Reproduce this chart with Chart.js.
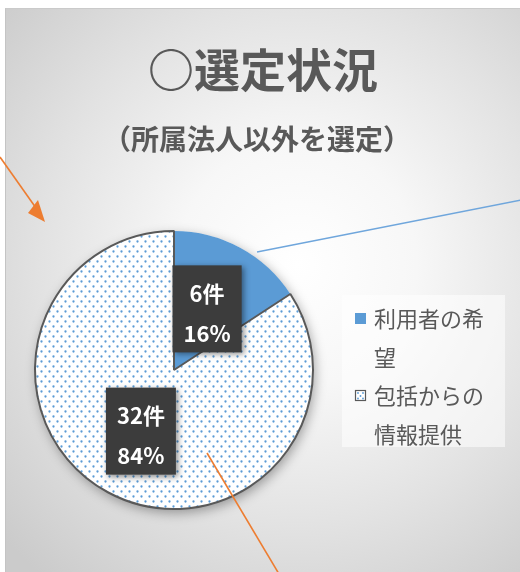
<!DOCTYPE html>
<html><head><meta charset="utf-8">
<script src="https://cdn.jsdelivr.net/npm/chart.js@4.4.1/dist/chart.umd.min.js"></script>
<style>
html,body{margin:0;padding:0;background:#fff;width:520px;height:572px;overflow:hidden}
#bg{position:absolute;left:5px;top:8px;width:530px;height:580px;border-left:1.5px solid #c4c4c4;border-top:1.5px solid #cacaca;
background:radial-gradient(ellipse 75% 70% at 55% 44%, #ffffff 0%, #f7f7f7 30%, #e2e2e2 65%, #cbcbcb 100%)}
#c{position:absolute;left:0;top:0}
</style></head><body><div id="bg"></div><canvas id="c" width="520" height="572"></canvas>
<script>
const TITLE = '○選定状況';
const SUBTITLE = '（所属法人以外を選定）';
const categories = ['利用者の希望', '包括からの情報提供'];
const counts = [6, 32];
const unit = '件';

const FONT = '"Noto Sans CJK JP","Noto Sans",sans-serif';
const TEXT = '#595959';
const BLUE = '#5B9BD5';

function makePattern(){
  const c = document.createElement('canvas');
  c.width = 8; c.height = 10;
  const x = c.getContext('2d');
  x.fillStyle = '#ffffff'; x.fillRect(0,0,8,10);
  x.fillStyle = '#5b9bd5';
  x.beginPath(); x.arc(1.5,1.5,1.15,0,Math.PI*2); x.fill();
  x.beginPath(); x.arc(5.5,6.5,1.15,0,Math.PI*2); x.fill();
  return x.createPattern(c,'repeat');
}
const pattern = makePattern();
const total = counts.reduce((a,b)=>a+b,0);

const pieShadow = {
  id:'pieShadow',
  beforeDatasetsDraw(chart){
    const a = chart.getDatasetMeta(0).data[0];
    if(!a) return;
    const ctx = chart.ctx;
    ctx.save();
    ctx.shadowColor='rgba(0,0,0,0.35)'; ctx.shadowBlur=12; ctx.shadowOffsetX=2; ctx.shadowOffsetY=4;
    ctx.fillStyle='#ffffff';
    ctx.beginPath(); ctx.arc(a.x,a.y,a.outerRadius,0,Math.PI*2); ctx.fill();
    ctx.restore();
  }
};

const dataLabels = {
  id:'dataLabels',
  afterDatasetsDraw(chart){
    const ctx = chart.ctx;
    const meta = chart.getDatasetMeta(0);
    meta.data.forEach((arc,i)=>{
      const p = arc.tooltipPosition();
      const v = counts[i];
      const lines = [v + unit, Math.round(v/total*100) + '%'];
      ctx.save();
      ctx.font = 'bold 22px ' + FONT;
      const w = Math.max(...lines.map(t=>ctx.measureText(t).width)) + 22;
      const h = 87;
      ctx.shadowColor='rgba(0,0,0,0.45)'; ctx.shadowBlur=6; ctx.shadowOffsetX=2; ctx.shadowOffsetY=2;
      ctx.fillStyle='#3c3c3c';
      ctx.fillRect(p.x-w/2, p.y-h/2, w, h);
      ctx.restore();
      ctx.save();
      ctx.font = 'bold 22px ' + FONT;
      ctx.fillStyle='#ffffff'; ctx.textAlign='center'; ctx.textBaseline='middle';
      ctx.fillText(lines[0], p.x, p.y-15);
      ctx.fillText(lines[1], p.x, p.y+25);
      ctx.restore();
    });
  }
};

const titles = {
  id:'titles',
  afterDraw(chart){
    const ctx = chart.ctx;
    ctx.save();
    ctx.fillStyle=TEXT; ctx.textAlign='center'; ctx.textBaseline='middle';
    ctx.font='bold 46px ' + FONT;
    ctx.fillText(TITLE, 263, 70);
    ctx.font='bold 28px ' + FONT;
    ctx.fillText(SUBTITLE, 257, 139);
    ctx.restore();
  }
};

function wrap(ctx, text, maxW){
  const out=[]; let cur='';
  for(const ch of text){
    if(ctx.measureText(cur+ch).width>maxW && cur){ out.push(cur); cur=ch; } else cur+=ch;
  }
  if(cur) out.push(cur);
  return out;
}

const customLegend = {
  id:'customLegend',
  afterDraw(chart){
    const ctx = chart.ctx;
    const bx=342, by=295, bw=163, bh=152;
    ctx.save();
    ctx.fillStyle='rgba(255,255,255,0.55)';
    ctx.fillRect(bx,by,bw,bh);
    ctx.font='22px ' + FONT;
    ctx.textBaseline='middle'; ctx.textAlign='left';
    const ds = chart.data.datasets[0];
    let y = 319;
    const lh = 38.5;
    chart.data.labels.forEach((lab,i)=>{
      const mx=355, my=y-6, ms=11;
      if(i===0){
        ctx.fillStyle=ds.backgroundColor[0];
        ctx.fillRect(mx,my,ms,ms);
      } else {
        ctx.fillStyle='#ffffff'; ctx.fillRect(mx,my,ms,ms);
        ctx.fillStyle='#5b9bd5';
        [[3,3],[8,3],[5.5,6],[3,8.5],[8,8.5]].forEach(([dx,dy])=>{ctx.beginPath();ctx.arc(mx+dx,my+dy,0.9,0,Math.PI*2);ctx.fill();});
        ctx.strokeStyle='#595959'; ctx.lineWidth=1.2; ctx.strokeRect(mx+0.5,my+0.5,ms-1,ms-1);
      }
      ctx.fillStyle=TEXT;
      const lines = wrap(ctx, lab, 122);
      lines.forEach((t,k)=>{ ctx.fillText(t, 374, y); y += lh; });
    });
    ctx.restore();
  }
};

const decorations = {
  id:'decorations',
  afterDraw(chart){
    const ctx = chart.ctx;
    ctx.save();
    ctx.strokeStyle='#ED7D31'; ctx.fillStyle='#ED7D31'; ctx.lineWidth=1.6;
    ctx.beginPath(); ctx.moveTo(0,157); ctx.lineTo(36,208); ctx.stroke();
    ctx.beginPath(); ctx.moveTo(45,222); ctx.lineTo(28,213); ctx.lineTo(38,200); ctx.closePath(); ctx.fill();
    ctx.beginPath(); ctx.moveTo(207,453); ctx.lineTo(279,574); ctx.stroke();
    ctx.strokeStyle='#6fa6dc'; ctx.lineWidth=1.6;
    ctx.beginPath(); ctx.moveTo(257,252); ctx.lineTo(521,200); ctx.stroke();
    ctx.restore();
  }
};

new Chart(document.getElementById('c'), {
  type:'pie',
  data:{
    labels: categories,
    datasets:[{
      data: counts,
      backgroundColor:[BLUE, pattern],
      borderColor:'#595959',
      borderWidth:[0,2]
    }]
  },
  options:{
    responsive:false,
    animation:false,
    layout:{padding:{left:34,right:206,top:230,bottom:62}},
    plugins:{legend:{display:false}, tooltip:{enabled:false}, title:{display:false}}
  },
  plugins:[pieShadow, dataLabels, titles, customLegend, decorations]
});
</script>
</body></html>
